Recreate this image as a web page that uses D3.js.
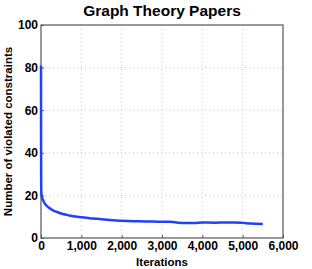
<!DOCTYPE html>
<html><head><meta charset="utf-8">
<script src="https://cdn.jsdelivr.net/npm/d3@7"></script>
<style>body{margin:0;background:#fff}svg{display:block}text{font-family:"Liberation Sans",Arial,sans-serif;font-weight:bold}</style>
</head><body><svg id="c" width="312" height="269"></svg>
<script>
const title = "Graph Theory Papers";
const xLabel = "Iterations";
const yLabel = "Number of violated constraints";
const xTicks = [0,1000,2000,3000,4000,5000,6000];
const yTicks = [0,20,40,60,80,100];
const iterations = [0,2,5,10,20,30,50,75,100,150,200,250,300,400,500,600,700,800,900,1000,1200,1400,1500,1700,2000,2300,2600,3000,3200,3400,3600,3800,4000,4300,4600,4800,5000,5200,5500];
const violated   = [81,40,25,21,19.5,18.7,17.8,16.8,16,15,14.2,13.5,13,12.2,11.5,11,10.6,10.2,10,9.7,9.3,9,8.8,8.4,8.1,7.9,7.8,7.6,7.6,7.2,7.0,7.0,7.3,7.2,7.3,7.3,7.1,6.8,6.6];

const svg = d3.select("#c");
const m = {l:41, r:29, t:25, b:31};
const W = 312, H = 269;
const x = d3.scaleLinear().domain([0,6000]).range([m.l, W-m.r]);
const y = d3.scaleLinear().domain([0,100]).range([H-m.b, m.t]);
const fmt = d3.format(",");

// grid
const g = svg.append("g");
g.selectAll("line.gx").data(xTicks.slice(1,-1)).join("line")
 .attr("x1",d=>x(d)).attr("x2",d=>x(d)).attr("y1",y(0)).attr("y2",y(100))
 .attr("stroke","#c8c8c8").attr("stroke-width",1).attr("stroke-dasharray","1,3");
g.selectAll("line.gy").data(yTicks.slice(1,-1)).join("line")
 .attr("y1",d=>y(d)).attr("y2",d=>y(d)).attr("x1",x(0)).attr("x2",x(6000))
 .attr("stroke","#c8c8c8").attr("stroke-width",1).attr("stroke-dasharray","1,3");

// axes
const xa = svg.append("g").attr("transform",`translate(0,${y(0)})`)
 .call(d3.axisBottom(x).tickValues(xTicks).tickFormat(fmt).tickSizeInner(-3).tickSizeOuter(0).tickPadding(5));
const ya = svg.append("g").attr("transform",`translate(${x(0)},0)`)
 .call(d3.axisLeft(y).tickValues(yTicks).tickSizeInner(-3).tickSizeOuter(0).tickPadding(3));
[xa,ya].forEach(a=>{a.select(".domain").remove();a.selectAll("line").attr("stroke","#555");
 a.selectAll("text").attr("font-size",12).attr("font-family","Liberation Sans, Arial, sans-serif").attr("font-weight","bold").attr("fill","#000");});
xa.selectAll("text").attr("dy","0.6em");

// frame
svg.append("rect").attr("x",x(0)).attr("y",y(100)).attr("width",x(6000)-x(0)).attr("height",y(0)-y(100))
 .attr("fill","none").attr("stroke","#555").attr("stroke-width",1.2);

// line
const line = d3.line().x((d,i)=>x(iterations[i])).y(d=>y(d)).curve(d3.curveMonotoneX);
svg.append("path").datum(violated).attr("d",line).attr("fill","none")
 .attr("stroke","#2040ff").attr("stroke-width",2.5).attr("stroke-linejoin","round");

// labels
svg.append("text").attr("x",(x(0)+x(6000))/2).attr("y",16).attr("text-anchor","middle").attr("font-size",15.5).text(title);
svg.append("text").attr("x",(x(0)+x(6000))/2).attr("y",266).attr("text-anchor","middle").attr("font-size",11.5).text(xLabel);
svg.append("text").attr("transform",`translate(12,${(y(0)+y(100))/2}) rotate(-90)`).attr("text-anchor","middle").attr("font-size",11.5).text(yLabel);
</script></body></html>
